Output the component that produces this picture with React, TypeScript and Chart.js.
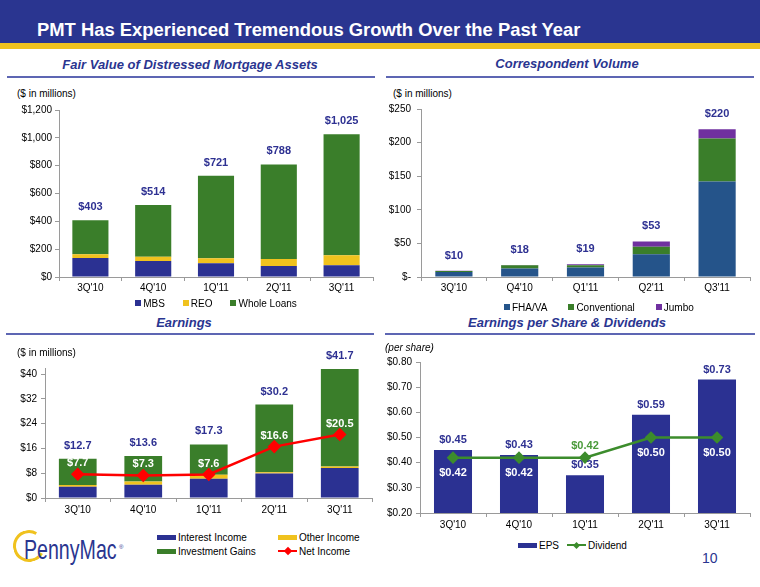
import React, { useEffect, useRef } from "react";
import { Chart, registerables } from "chart.js";

Chart.register(...registerables);

const FONT = 'Arial, "Liberation Sans", Helvetica, sans-serif';
const NAVY = "#2B3192";
const TITLE_BLUE = "#2A3590";
const GOLD = "#F0C21E";
const GREEN = "#3A7E2A";
const STEEL = "#25548A";
const PURPLE = "#7030A0";
const RED = "#FF0000";
const DIV_GREEN = "#3C8C2C";
const LABEL_BLUE = "#2E3192";
const AXIS = "#9A9A9A";
const RULE = "#5D66B3";

// ---------- Fair Value of Distressed Mortgage Assets ----------
const fvCategories = ["3Q'10", "4Q'10", "1Q'11", "2Q'11", "3Q'11"];
const fvMBS = [137, 115, 98, 79, 84];
const fvREO = [26, 31, 36, 51, 72];
const fvWholeLoans = [245, 372, 593, 679, 869];
const fvTotalLabels = ["$403", "$514", "$721", "$788", "$1,025"];

// ---------- Correspondent Volume ----------
const cvCategories = ["3Q'10", "Q4'10", "Q1'11", "Q2'11", "Q3'11"];
const cvFHA = [7.5, 12.5, 14, 34, 142];
const cvConventional = [1.5, 5, 3.5, 11, 64];
const cvJumbo = [0.3, 0.5, 1.5, 8, 14];
const cvTotalLabels = ["$10", "$18", "$19", "$53", "$220"];

// ---------- Earnings ----------
const erCategories = ["3Q'10", "4Q'10", "1Q'11", "2Q'11", "3Q'11"];
const erInterest = [3.6, 4.3, 6.2, 7.9, 9.7];
const erOther = [0.6, 1.0, 1.3, 0.4, 0.5];
const erGains = [8.5, 8.3, 9.8, 21.9, 31.5];
const erNetIncome = [7.7, 7.3, 7.6, 16.6, 20.5];

// ---------- EPS & Dividends ----------
const epsCategories = ["3Q'10", "4Q'10", "1Q'11", "2Q'11", "3Q'11"];
const epsValues = [0.45, 0.43, 0.35, 0.59, 0.73];
const dividendValues = [0.42, 0.42, 0.42, 0.5, 0.5];

const fvSeries = [
  { label: "MBS", data: fvMBS, color: NAVY },
  { label: "REO", data: fvREO, color: GOLD },
  { label: "Whole Loans", data: fvWholeLoans, color: GREEN },
];
const cvSeries = [
  { label: "FHA/VA", data: cvFHA, color: STEEL },
  { label: "Conventional", data: cvConventional, color: GREEN },
  { label: "Jumbo", data: cvJumbo, color: PURPLE },
];
const erSeries = [
  { label: "Interest Income", data: erInterest, color: NAVY },
  { label: "Other Income", data: erOther, color: GOLD },
  { label: "Investment Gains", data: erGains, color: GREEN },
];

function makeScales(o: {
  min: number;
  max: number;
  step: number;
  fmt: (v: number) => string;
  yWidth: number;
  stacked: boolean;
  xPad: number;
  yPad: number;
}) {
  return {
    x: {
      stacked: o.stacked,
      grid: { display: true, drawOnChartArea: false, drawTicks: true, tickLength: 4, color: AXIS, offset: true },
      border: { display: true, color: AXIS, width: 1 },
      ticks: { color: "#000", font: { size: 10, family: FONT }, padding: o.xPad, maxRotation: 0, autoSkip: false },
      afterFit: (s: any) => {
        s.height = 20;
        s.paddingLeft = 0;
        s.paddingRight = 0;
      },
    },
    y: {
      stacked: o.stacked,
      min: o.min,
      max: o.max,
      ticks: {
        stepSize: o.step,
        includeBounds: false,
        color: "#000",
        font: { size: 10, family: FONT },
        padding: o.yPad,
        callback: (v: any) => o.fmt(Number(v)),
      },
      grid: { drawOnChartArea: false, drawTicks: true, tickLength: 4, color: AXIS },
      border: { display: true, color: AXIS, width: 1 },
      afterFit: (s: any) => {
        s.width = o.yWidth;
        s.paddingTop = 0;
        s.paddingBottom = 0;
      },
    },
  };
}

function textPlugin(id: string, draw: (chart: any, ctx: CanvasRenderingContext2D) => void) {
  return {
    id,
    afterDatasetsDraw(chart: any) {
      const ctx = chart.ctx as CanvasRenderingContext2D;
      ctx.save();
      ctx.textAlign = "center";
      ctx.textBaseline = "middle";
      draw(chart, ctx);
      ctx.restore();
    },
  };
}

const baseOptions = (padding: any) => ({
  animation: false as const,
  responsive: false,
  maintainAspectRatio: false,
  layout: { padding },
  plugins: { legend: { display: false }, tooltip: { enabled: false } },
});

function fvConfig(): any {
  return {
    type: "bar",
    data: {
      labels: fvCategories,
      datasets: fvSeries.map((s) => ({
        label: s.label,
        data: s.data,
        backgroundColor: s.color,
        barPercentage: 0.575,
        categoryPercentage: 1,
      })),
    },
    options: {
      ...baseOptions({ top: 10, right: 7, bottom: 3, left: 0 }),
      scales: makeScales({
        min: 0,
        max: 1200,
        step: 200,
        fmt: (v) => "$" + v.toLocaleString("en-US"),
        yWidth: 59,
        stacked: true,
        xPad: 1,
        yPad: 3,
      }),
    },
    plugins: [
      textPlugin("fvTotals", (chart, ctx) => {
        ctx.font = `bold 11px ${FONT}`;
        ctx.fillStyle = LABEL_BLUE;
        const meta = chart.getDatasetMeta(fvSeries.length - 1);
        meta.data.forEach((el: any, i: number) => ctx.fillText(fvTotalLabels[i], el.x, el.y - 13));
      }),
    ],
  };
}

function cvConfig(): any {
  return {
    type: "bar",
    data: {
      labels: cvCategories,
      datasets: cvSeries.map((s) => ({
        label: s.label,
        data: s.data,
        backgroundColor: s.color,
        barPercentage: 0.565,
        categoryPercentage: 1,
      })),
    },
    options: {
      ...baseOptions({ top: 9, right: 10, bottom: 3, left: 0 }),
      scales: makeScales({
        min: 0,
        max: 250,
        step: 50,
        fmt: (v) => (v === 0 ? "$-" : "$" + v),
        yWidth: 41,
        stacked: true,
        xPad: 1,
        yPad: 6,
      }),
    },
    plugins: [
      textPlugin("cvTotals", (chart, ctx) => {
        ctx.font = `bold 11px ${FONT}`;
        ctx.fillStyle = LABEL_BLUE;
        const meta = chart.getDatasetMeta(cvSeries.length - 1);
        meta.data.forEach((el: any, i: number) => ctx.fillText(cvTotalLabels[i], el.x, el.y - 15));
      }),
    ],
  };
}

function erConfig(): any {
  return {
    type: "bar",
    data: {
      labels: erCategories,
      datasets: [
        ...erSeries.map((s) => ({
          type: "bar",
          label: s.label,
          data: s.data,
          backgroundColor: s.color,
          barPercentage: 0.576,
          categoryPercentage: 1,
          stack: "income",
          order: 1,
        })),
        {
          type: "line",
          label: "Net Income",
          data: erNetIncome,
          borderColor: RED,
          backgroundColor: RED,
          borderWidth: 2.5,
          pointStyle: "rectRot",
          pointRadius: 5,
          pointBackgroundColor: RED,
          pointBorderColor: RED,
          stack: "net",
          order: 0,
        },
      ],
    },
    options: {
      ...baseOptions({ top: 18, right: 5, bottom: 2, left: 0 }),
      scales: makeScales({
        min: 0,
        max: 42,
        step: 8,
        fmt: (v) => "$" + v,
        yWidth: 45,
        stacked: true,
        xPad: 2,
        yPad: 4,
      }),
    },
    plugins: [
      textPlugin("erLabels", (chart, ctx) => {
        ctx.font = `bold 11px ${FONT}`;
        ctx.fillStyle = LABEL_BLUE;
        const top = chart.getDatasetMeta(erSeries.length - 1);
        top.data.forEach((el: any, i: number) => {
          const total = erInterest[i] + erOther[i] + erGains[i];
          ctx.fillText("$" + total.toFixed(1), el.x, el.y - 13);
        });
        ctx.fillStyle = "#FFFFFF";
        const line = chart.getDatasetMeta(erSeries.length);
        line.data.forEach((el: any, i: number) => {
          ctx.fillText("$" + erNetIncome[i].toFixed(1), el.x, el.y - 11);
        });
      }),
    ],
  };
}

function epsConfig(): any {
  return {
    type: "bar",
    data: {
      labels: epsCategories,
      datasets: [
        {
          type: "bar",
          label: "EPS",
          data: epsValues,
          backgroundColor: NAVY,
          barPercentage: 0.576,
          categoryPercentage: 1,
          order: 1,
        },
        {
          type: "line",
          label: "Dividend",
          data: dividendValues,
          borderColor: DIV_GREEN,
          backgroundColor: DIV_GREEN,
          borderWidth: 2.5,
          pointStyle: "rectRot",
          pointRadius: 4.5,
          pointBackgroundColor: DIV_GREEN,
          pointBorderColor: DIV_GREEN,
          order: 0,
        },
      ],
    },
    options: {
      ...baseOptions({ top: 22, right: 10, bottom: 2, left: 0 }),
      scales: makeScales({
        min: 0.2,
        max: 0.8,
        step: 0.1,
        fmt: (v) => "$" + v.toFixed(2),
        yWidth: 40,
        stacked: false,
        xPad: 2,
        yPad: 4,
      }),
    },
    plugins: [
      textPlugin("epsLabels", (chart, ctx) => {
        ctx.font = `bold 11px ${FONT}`;
        const bars = chart.getDatasetMeta(0);
        ctx.fillStyle = LABEL_BLUE;
        bars.data.forEach((el: any, i: number) => ctx.fillText("$" + epsValues[i].toFixed(2), el.x, el.y - 10));
        const line = chart.getDatasetMeta(1);
        line.data.forEach((el: any, i: number) => {
          const above = dividendValues[i] > epsValues[i];
          ctx.fillStyle = above ? "#4A9A3A" : "#FFFFFF";
          ctx.fillText("$" + dividendValues[i].toFixed(2), el.x, above ? el.y - 12 : el.y + 15);
        });
      }),
    ],
  };
}

function ChartCanvas(props: { left: number; top: number; width: number; height: number; make: () => any }) {
  const ref = useRef<HTMLCanvasElement>(null);
  useEffect(() => {
    const chart = new Chart(ref.current as HTMLCanvasElement, props.make());
    return () => chart.destroy();
  }, []);
  return (
    <canvas
      ref={ref}
      width={props.width}
      height={props.height}
      style={{ position: "absolute", left: props.left, top: props.top, width: props.width, height: props.height }}
    />
  );
}

function Txt(props: {
  x: number;
  y: number;
  size?: number;
  bold?: boolean;
  italic?: boolean;
  color?: string;
  center?: boolean;
  children: React.ReactNode;
}) {
  const size = props.size ?? 10;
  const lh = Math.round(size * 1.2);
  const style: React.CSSProperties = {
    position: "absolute",
    top: props.y - lh / 2,
    lineHeight: lh + "px",
    fontSize: size,
    fontWeight: props.bold ? "bold" : "normal",
    fontStyle: props.italic ? "italic" : "normal",
    color: props.color ?? "#000",
    whiteSpace: "nowrap",
  };
  if (props.center) {
    style.left = props.x - 250;
    style.width = 500;
    style.textAlign = "center";
  } else {
    style.left = props.x;
  }
  return <div style={style}>{props.children}</div>;
}

function Heading(props: { text: string; cx: number; y: number; x1: number; x2: number; lineY: number }) {
  return (
    <>
      <Txt x={props.cx} y={props.y} size={13} bold italic color={TITLE_BLUE} center>
        {props.text}
      </Txt>
      <div
        style={{ position: "absolute", left: props.x1, top: props.lineY - 1, width: props.x2 - props.x1, height: 2, background: RULE }}
      />
    </>
  );
}

function BoxItem(props: { color: string; label: string }) {
  return (
    <div style={{ display: "flex", alignItems: "center", gap: 2 }}>
      <div style={{ width: 6, height: 6, background: props.color }} />
      <span>{props.label}</span>
    </div>
  );
}

function WideSwatch(props: { color: string }) {
  return <div style={{ width: 19, height: 5, background: props.color }} />;
}

function LineSwatch(props: { color: string; d: number }) {
  return (
    <div style={{ position: "relative", width: 19, height: 10 }}>
      <div style={{ position: "absolute", left: 0, top: 4, width: 19, height: 2, background: props.color }} />
      <div
        style={{
          position: "absolute",
          left: 9.5 - props.d / 2,
          top: 5 - props.d / 2,
          width: props.d,
          height: props.d,
          background: props.color,
          transform: "rotate(45deg)",
        }}
      />
    </div>
  );
}

function LegendItem(props: { x: number; y: number; swatch: React.ReactNode; label: string }) {
  return (
    <div
      style={{
        position: "absolute",
        left: props.x,
        top: props.y - 7,
        height: 14,
        display: "flex",
        alignItems: "center",
        gap: 2,
        fontSize: 10,
        color: "#000",
        whiteSpace: "nowrap",
      }}
    >
      {props.swatch}
      <span>{props.label}</span>
    </div>
  );
}

export default function App() {
  return (
    <div
      style={{
        position: "fixed",
        left: 0,
        top: 0,
        width: 760,
        height: 587,
        background: "#FFFFFF",
        overflow: "hidden",
        fontFamily: FONT,
      }}
    >
      {/* Title bar */}
      <div style={{ position: "absolute", left: 0, top: 0, width: 760, height: 43, background: TITLE_BLUE }} />
      <div style={{ position: "absolute", left: 0, top: 43, width: 760, height: 6, background: GOLD }} />
      <div
        style={{
          position: "absolute",
          left: 37,
          top: 20,
          height: 20,
          lineHeight: "20px",
          fontSize: 18.4,
          fontWeight: "bold",
          color: "#FFFFFF",
          whiteSpace: "nowrap",
        }}
      >
        PMT Has Experienced Tremendous Growth Over the Past Year
      </div>

      {/* Charts */}
      <ChartCanvas left={0} top={100} width={380} height={200} make={fvConfig} />
      <ChartCanvas left={380} top={100} width={380} height={200} make={cvConfig} />
      <ChartCanvas left={0} top={350} width={380} height={170} make={erConfig} />
      <ChartCanvas left={380} top={340} width={380} height={195} make={epsConfig} />

      {/* Section headings */}
      <Heading text="Fair Value of Distressed Mortgage Assets" cx={190} y={65} x1={7} x2={375} lineY={77} />
      <Heading text="Correspondent Volume" cx={567} y={64} x1={386} x2={754} lineY={77} />
      <Heading text="Earnings" cx={184} y={323} x1={6} x2={374} lineY={334} />
      <Heading text="Earnings per Share & Dividends" cx={567} y={323} x1={385} x2={755} lineY={334} />

      {/* Unit notes */}
      <Txt x={17} y={94}>($ in millions)</Txt>
      <Txt x={393} y={94}>($ in millions)</Txt>
      <Txt x={17} y={353}>($ in millions)</Txt>
      <Txt x={385} y={348} italic>
        (per share)
      </Txt>

      {/* Legend: fair value */}
      <div
        style={{
          position: "absolute",
          left: 59,
          width: 314,
          top: 296,
          height: 14,
          display: "flex",
          justifyContent: "center",
          alignItems: "center",
          gap: 18,
          fontSize: 10,
          color: "#000",
        }}
      >
        {fvSeries.map((s) => (
          <BoxItem key={s.label} color={s.color} label={s.label} />
        ))}
      </div>

      {/* Legend: correspondent */}
      <div
        style={{
          position: "absolute",
          left: 504,
          top: 300,
          height: 14,
          display: "flex",
          alignItems: "center",
          gap: 21,
          fontSize: 10,
          color: "#000",
        }}
      >
        {cvSeries.map((s) => (
          <BoxItem key={s.label} color={s.color} label={s.label} />
        ))}
      </div>

      {/* Legend: earnings */}
      <LegendItem x={157} y={537} swatch={<WideSwatch color={erSeries[0].color} />} label={erSeries[0].label} />
      <LegendItem x={278} y={537} swatch={<WideSwatch color={erSeries[1].color} />} label={erSeries[1].label} />
      <LegendItem x={157} y={551} swatch={<WideSwatch color={erSeries[2].color} />} label={erSeries[2].label} />
      <LegendItem x={278} y={551} swatch={<LineSwatch color={RED} d={6} />} label="Net Income" />

      {/* Legend: EPS */}
      <LegendItem x={518} y={545} swatch={<WideSwatch color={NAVY} />} label="EPS" />
      <LegendItem x={567} y={545} swatch={<LineSwatch color={DIV_GREEN} d={5} />} label="Dividend" />

      {/* Logo */}
      <div
        style={{
          position: "absolute",
          left: 13,
          top: 530,
          width: 26,
          height: 26,
          borderRadius: "50%",
          border: `3px solid ${GOLD}`,
          borderRightColor: "transparent",
          transform: "rotate(-15deg)",
        }}
      />
      <div
        style={{
          position: "absolute",
          left: 24,
          top: 534,
          height: 32,
          lineHeight: "32px",
          fontSize: 28,
          color: TITLE_BLUE,
          transform: "scaleX(0.7)",
          transformOrigin: "left center",
          whiteSpace: "nowrap",
        }}
      >
        PennyMac
      </div>
      <Txt x={119} y={547} size={6} color={TITLE_BLUE}>
        ®
      </Txt>

      {/* Page number */}
      <Txt x={702} y={558} size={14} color={TITLE_BLUE}>
        10
      </Txt>
    </div>
  );
}
